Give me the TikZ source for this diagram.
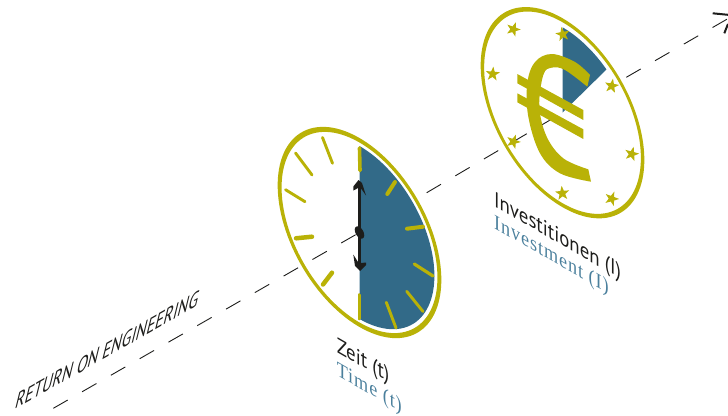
\documentclass[tikz,border=0pt]{standalone}
\usepackage{fontspec}
\setmainfont{PT Sans}
\newfontfamily\serifblue[LetterSpace=5]{Liberation Serif}
\definecolor{gold}{HTML}{B9B207}
\definecolor{petrol}{HTML}{326A88}
\definecolor{petroltext}{HTML}{4A7F9C}
\definecolor{ink}{HTML}{1D1D1B}
\tikzset{
  face/.style={shift={(#1)},x={(0.866pt,-0.5pt)},y={(0pt,-1pt)}},
  isotext/.style={cm={.866,-.5,0,1,(#1)},transform shape,anchor=base west,inner sep=0pt},
  blacklabel/.style={text=ink,font=\fontsize{21.8}{21.8}\selectfont},
  bluelabel/.style={text=petroltext,font=\fontsize{21}{21}\selectfont\serifblue},
  axisline/.style={ink,line width=0.9pt,dash pattern=on 16.6pt off 16.6pt},
  tickmark/.style={gold,line cap=round,line width=#1},
  tickmark/.default=3pt,
  headline/.style={ink,line width=2pt},
}
\newcommand{\eustar}[3]{\fill[gold,shift={(#1,#2)},rotate=#3] (-90:7.5) -- (-54:3) -- (-18:7.5) -- (18:3) -- (54:7.5) -- (90:3) -- (126:7.5) -- (162:3) -- (198:7.5) -- (234:3) -- cycle;}
\begin{document}
\begin{tikzpicture}[x=1pt,y=-1pt]
\useasboundingbox (0,0) rectangle (728,415);
% axis
\coordinate (a0) at (53.3,408.3);
\coordinate (clockc) at (359.5,232.5);
\coordinate (a1) at (426.7,192.7);
\coordinate (euroc) at (562.5,112.7);
\coordinate (a2) at (626.3,77.3);
\coordinate (a3) at (728,18.6);
\draw[axisline] (a0) -- (clockc);
\draw[axisline] (a1) -- (euroc);
\draw[axisline] (a2) -- (a3);
% arrow tip at the edge
\coordinate (t1) at (712.7,13.3);
\coordinate (t2) at (728,14.8);
\coordinate (t3) at (724.3,33.3);
\coordinate (t4) at (728,24);
\draw[headline] (t1) -- (t2);
\draw[headline] (t3) -- (t4);
% clock
\begin{scope}[face={359.5,232.5}]
  \fill[petrol] (0,-86.5) -- plot[domain=0:180,samples=60] ({86.5*sin(\x)},{-86.5*cos(\x)}) -- cycle;
  \fill[gold,even odd rule] plot[domain=0:360,samples=120] ({94.5*cos(\x)},{94.5*sin(\x)}) -- cycle
     plot[domain=0:360,samples=120] ({90*cos(\x)},{90*sin(\x)}) -- cycle;
\end{scope}
\draw[tickmark=3.6pt] (359.5,148)--(360,170.5);
\draw[tickmark=4pt] (395,182)--(387.3,194);
\draw[tickmark=4pt] (423,226.7)--(407,228.7);
\draw[tickmark=3.2pt] (433,276)--(414.3,264);
\draw[tickmark=2.9pt] (423,311.5)--(406.7,291.3);
\draw[tickmark=2.9pt] (396,328)--(386.3,302.3);
\draw[tickmark=3.6pt] (359.3,318.5)--(359.3,295);
\draw[tickmark=4.5pt] (332,272.7)--(323,284.5);
\draw[tickmark=4.5pt] (312,236.7)--(296,238.3);
\draw[tickmark=2.9pt] (305,201.7)--(285.5,189.7);
\draw[tickmark=2.9pt] (312,175)--(295.5,153);
\draw[tickmark=2.9pt] (332.5,163.3)--(322.5,137.5);
% clock hands
\fill[ink] (357.8,182) rectangle (360.7,268);
\fill[ink] (358.5,180) -- (362,183) -- (366,195.5) -- (361,188.5) -- (359,187.5) -- (353.5,190.5) -- (353.3,186.5) -- cycle;
\fill[ink] (353.3,254.5) -- (358,262) -- (361,263) -- (366,262.5) -- (366,265) -- (360,271) -- (355,266) -- cycle;
\begin{scope}[face={359.5,232.5}]
  \fill[ink] (0,0) circle [radius=5.5];
\end{scope}
% euro disc
\begin{scope}[face={562.5,112.7}]
  \fill[petrol] (0,0) -- plot[domain=0:36.5,samples=20] ({85.4*sin(\x)},{-85.4*cos(\x)}) -- cycle;
  \fill[gold,even odd rule] plot[domain=0:360,samples=120] ({94.5*cos(\x)},{94.5*sin(\x)}) -- cycle
     plot[domain=0:360,samples=120] ({90.5*cos(\x)},{90.5*sin(\x)}) -- cycle;
\end{scope}
\fill[gold] plot[smooth,tension=.6] coordinates {(590,75) (575,62) (551.7,54) (535,62) (527.3,83.3) (528.3,116.7) (540,153.3) (560,173.3) (591,181.7)}
  -- plot[smooth,tension=.6] coordinates {(588.3,169.3) (563.3,158.3) (546.7,136.7) (539.3,106.7) (543.3,75) (551.7,67.7) (565,70) (587.3,86.7)} -- cycle;
\fill[gold] (517.3,74) -- (583.3,110) -- (583.3,120) -- (517.3,83.3) -- cycle;
\fill[gold] (517.3,93.3) -- (583.3,129.3) -- (583.3,139) -- (517.3,102.3) -- cycle;
\foreach \sx/\sy/\rot in {513.3/29.3/-20,562.7/34.3/10,611.7/86/-10,631.7/154/-15,611.7/198.7/-20,562.3/193.3/5,513.3/141.7/-20,492.7/74/-5}{
  \eustar{\sx}{\sy}{\rot}
}
% labels
\node (inv) [isotext={494,206},blacklabel] at (0,0) {Investitionen (I)};
\node (invE) [isotext={494,228},bluelabel] at (0,0) {Investment (I)};
\node (zeit) [isotext={336.7,352},blacklabel] at (0,0) {Zeit (t)};
\node (time) [isotext={336.7,375},bluelabel] at (0,0) {Time (t)};
\node (roe) [cm={.88,.5,.32,1.3,(14,410)},transform shape,anchor=base west,inner sep=0pt,font=\fontsize{18}{18}\selectfont,text=ink] at (0,0) {RETURN ON ENGINEERING};
\end{tikzpicture}
\end{document}
